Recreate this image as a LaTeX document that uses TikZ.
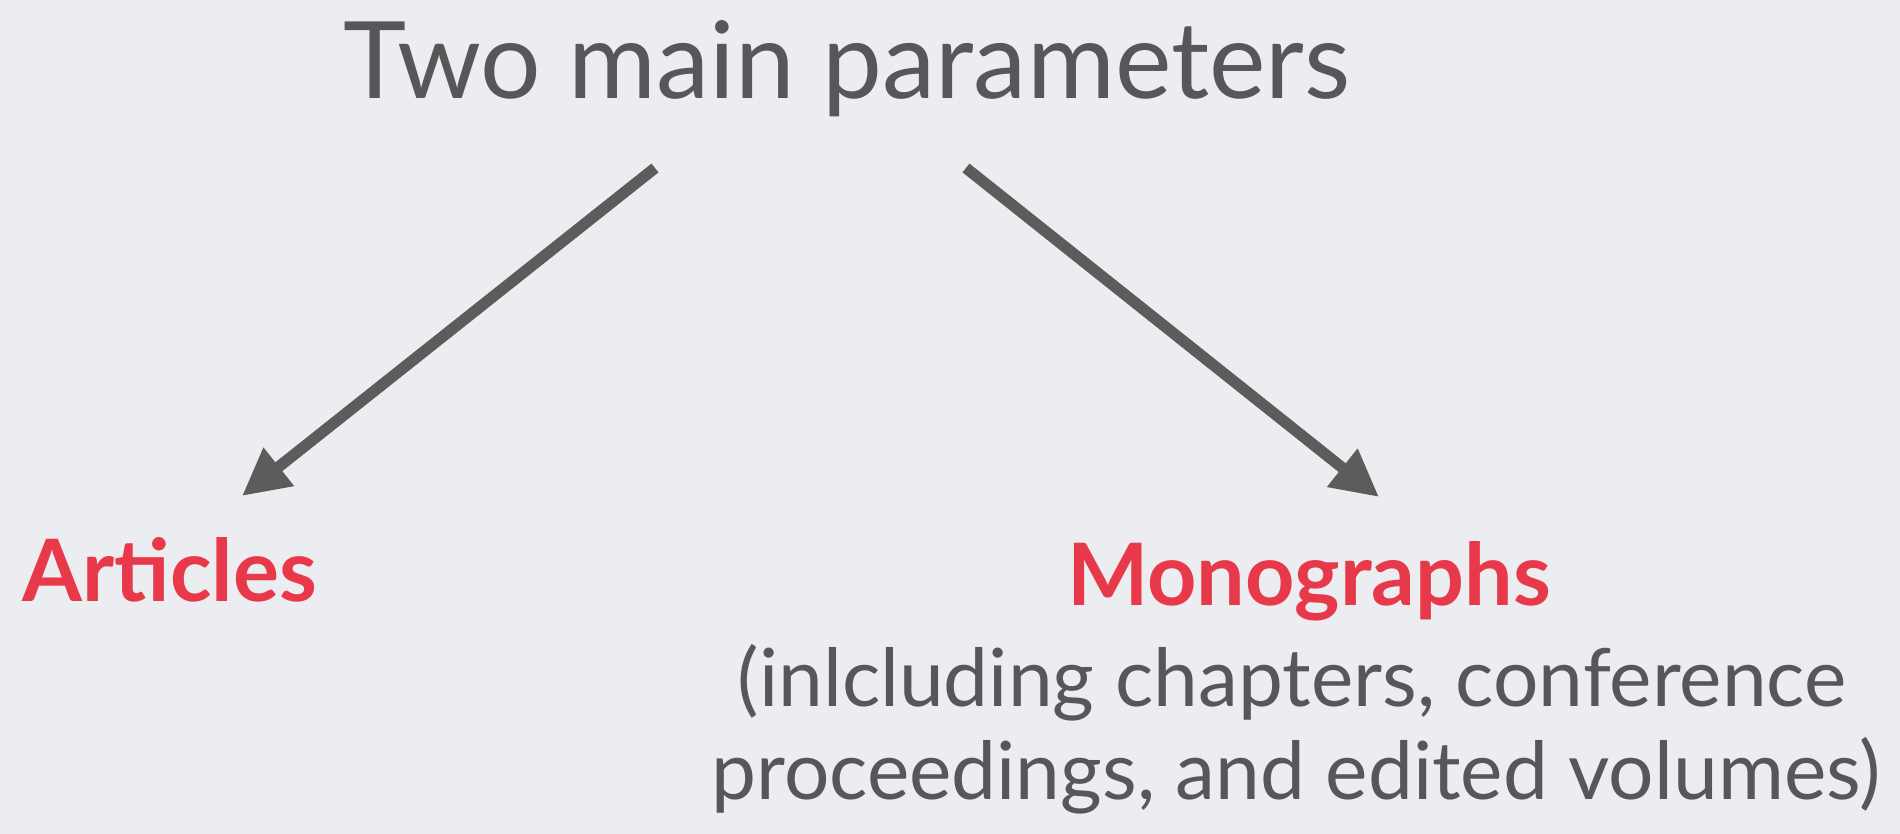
\documentclass[tikz,border=0pt]{standalone}
\usepackage{fontspec}
\setmainfont{Lato}
\usepackage{xcolor}
\usetikzlibrary{arrows.meta}

\definecolor{slidebg}{HTML}{EBEDF0}
\definecolor{arrowgray}{HTML}{5A5D5C}
\definecolor{textgray}{HTML}{555758}
\definecolor{hotred}{HTML}{E8394A}

\tikzset{
  title/.style={anchor=base, inner sep=0pt, text=textgray, font=\fontsize{30.4}{36}\selectfont},
  kind/.style={anchor=base, inner sep=0pt, text=hotred, font=\fontsize{24.5}{30}\selectfont\bfseries},
  note/.style={anchor=base, inner sep=0pt, text=textgray, font=\fontsize{22.8}{28}\selectfont},
  arr/.style={draw=arrowgray, line width=3.2pt, -{Triangle[length=0.47cm,width=0.46cm]}}
}

\begin{document}
\begin{tikzpicture}[x=0.01cm,y=-0.01cm]
        \fill[slidebg] (0,0) rectangle (1900,834);
        \useasboundingbox (0,0) rectangle (1900,834);

        \node[title] (two) at (847,99) {Two main parameters};

        \node[kind] (articles) at (170,602) {Articles};
        \node[kind] (mono) at (1309,606) {Monographs};
        \node[note] (incl) at (1292,706) {(inlcluding chapters, conference};
        \node[note] (proc) at (1296,800) {proceedings, and edited volumes)};

        \coordinate (leftfrom) at (655,168);
        \coordinate (lefttip) at (242,496);
        \coordinate (rightfrom) at (966,168);
        \coordinate (righttip) at (1379,497);

        \draw[arr] (leftfrom) -- (lefttip);
        \draw[arr] (rightfrom) -- (righttip);
    \end{tikzpicture}
\end{document}
